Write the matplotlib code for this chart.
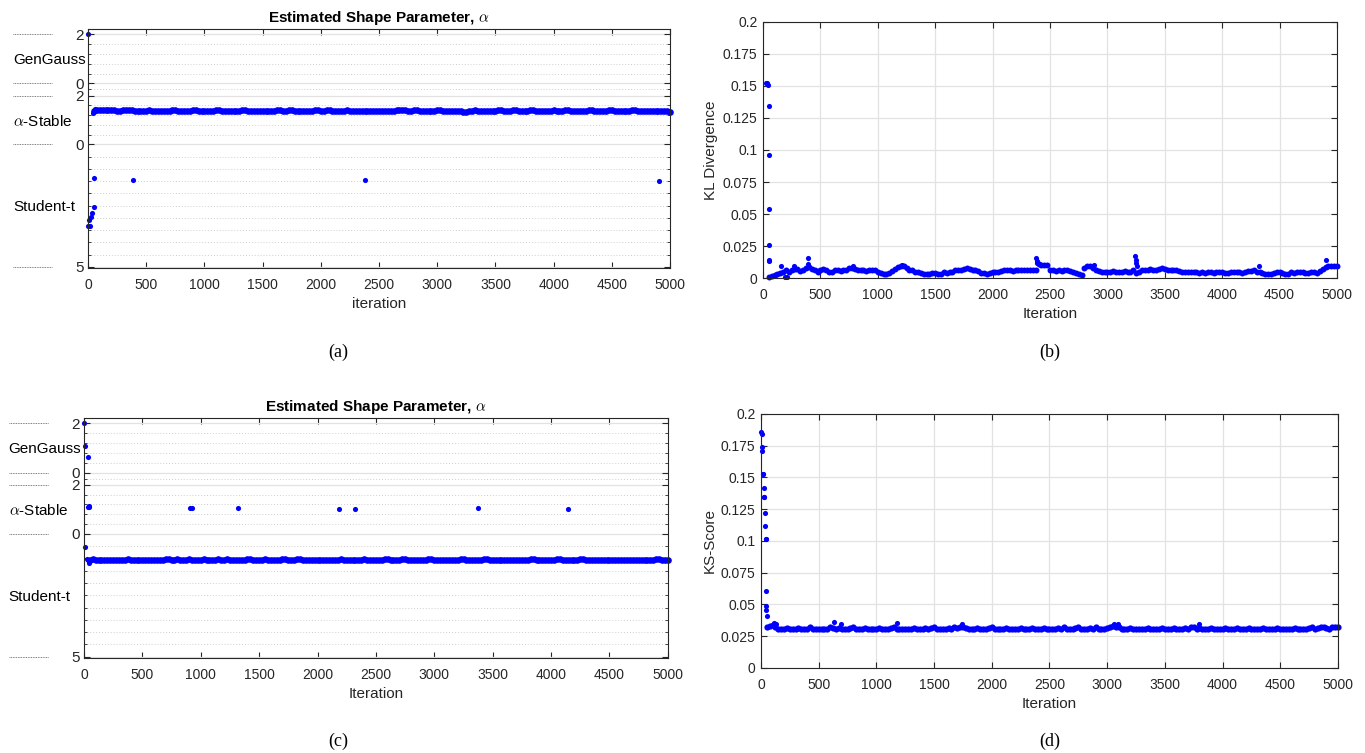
import numpy as np
import matplotlib
matplotlib.use('Agg')
import matplotlib.pyplot as plt

plt.rcParams['font.family'] = ['Liberation Sans', 'DejaVu Sans']
plt.rcParams['mathtext.fontset'] = 'cm'

BLUE = '#0000ff'
DARK = '#262626'
GRID = '#e2e2e2'

# ---------------- data ----------------
band_iter = np.arange(50, 5001, 25)

# (a) shape parameter, first run
a_gg_iter = [0]
a_gg_val = [2.0]
a_st_iter = [40, 60]
a_st_val = [1.27, 1.43]
a_st_band = [1.36, 1.40, 1.41, 1.41, 1.40, 1.40, 1.39, 1.39, 1.38, 1.38, 1.39, 1.39, 1.40, 1.39, 1.38, 1.37, 1.37, 1.38, 1.38, 1.39,
             1.38, 1.38, 1.37, 1.37, 1.38, 1.38, 1.38, 1.39, 1.39, 1.38, 1.38, 1.37, 1.38, 1.38, 1.39, 1.39, 1.38, 1.38, 1.38, 1.37,
             1.38, 1.38, 1.39, 1.39, 1.38, 1.38, 1.37, 1.37, 1.38, 1.38, 1.38, 1.39, 1.39, 1.38, 1.38, 1.38, 1.38, 1.37, 1.37, 1.38,
             1.38, 1.38, 1.38, 1.39, 1.39, 1.38, 1.38, 1.39, 1.39, 1.38, 1.38, 1.38, 1.38, 1.37, 1.38, 1.38, 1.39, 1.39, 1.38, 1.38,
             1.39, 1.39, 1.38, 1.38, 1.38, 1.38, 1.38, 1.39, 1.38, 1.38, 1.38, 1.37, 1.37, 1.36, 1.35, 1.35, 1.35, 1.35, 1.35, 1.35,
             1.35, 1.36, 1.37, 1.38, 1.39, 1.39, 1.40, 1.39, 1.38, 1.38, 1.39, 1.39, 1.38, 1.38, 1.37, 1.38, 1.38, 1.38, 1.39, 1.39,
             1.38, 1.38, 1.37, 1.37, 1.38, 1.37, 1.36, 1.33, 1.31, 1.36, 1.38, 1.39, 1.38, 1.38, 1.38, 1.37, 1.37, 1.38, 1.38, 1.39,
             1.39, 1.38, 1.38, 1.38, 1.39, 1.39, 1.38, 1.38, 1.38, 1.38, 1.39, 1.39, 1.38, 1.38, 1.37, 1.38, 1.38, 1.38, 1.39, 1.38,
             1.38, 1.38, 1.39, 1.39, 1.38, 1.38, 1.38, 1.37, 1.38, 1.38, 1.39, 1.39, 1.38, 1.38, 1.38, 1.38, 1.38, 1.39, 1.39, 1.38,
             1.38, 1.38, 1.37, 1.38, 1.38, 1.39, 1.39, 1.38, 1.38, 1.38, 1.38, 1.37, 1.38, 1.38, 1.37, 1.37, 1.36, 1.35, 1.34]
a_tt_iter = [3, 10, 20, 25, 35, 47, 55, 389, 2380, 4905]
a_tt_val = [3.32, 3.09, 3.32, 2.95, 2.79, 2.57, 1.39, 1.46, 1.45, 1.50]

# (b) KL divergence
kl_early_iter = [28, 32, 45, 48, 50, 51, 52, 53, 54]
kl_early_val = [0.152, 0.152, 0.151, 0.1345, 0.096, 0.054, 0.026, 0.014, 0.013]
kl_band = [0.001, 0.0015, 0.002, 0.003, 0.004, 0.005, 0.006, 0.0045, 0.006, 0.007, 0.007, 0.0055, 0.006, 0.0075, 0.0085, 0.007, 0.006, 0.005, 0.0065, 0.007,
           0.006, 0.005, 0.005, 0.006, 0.0065, 0.0055, 0.006, 0.0065, 0.0075, 0.008, 0.007, 0.0065, 0.0065, 0.006, 0.0055, 0.006, 0.0065, 0.006, 0.005, 0.004,
           0.003, 0.003, 0.004, 0.0055, 0.007, 0.0085, 0.0095, 0.009, 0.0075, 0.006, 0.006, 0.005, 0.005, 0.004, 0.003, 0.003, 0.0035, 0.004, 0.004, 0.003,
           0.0035, 0.0045, 0.004, 0.005, 0.005, 0.0065, 0.0065, 0.006, 0.007, 0.0075, 0.007, 0.0065, 0.006, 0.0055, 0.004, 0.004, 0.0035, 0.004, 0.0045, 0.005,
           0.0045, 0.0055, 0.006, 0.0065, 0.006, 0.0055, 0.006, 0.0065, 0.006, 0.0065, 0.006, 0.006, 0.0065, 0.0065, 0.011, 0.0105, 0.0105, 0.01, 0.0065, 0.006,
           0.0055, 0.006, 0.0055, 0.0065, 0.006, 0.0055, 0.005, 0.004, 0.003, 0.0025, 0.0075, 0.0095, 0.009, 0.0075, 0.0065, 0.0055, 0.005, 0.0045, 0.005, 0.005,
           0.0055, 0.005, 0.0045, 0.005, 0.0055, 0.005, 0.0045, 0.006, 0.004, 0.005, 0.006, 0.0065, 0.006, 0.007, 0.0065, 0.0065, 0.007, 0.0075, 0.007, 0.006,
           0.0065, 0.006, 0.006, 0.0055, 0.005, 0.005, 0.0045, 0.005, 0.0045, 0.005, 0.004, 0.0045, 0.004, 0.005, 0.0045, 0.004, 0.005, 0.005, 0.0045, 0.004,
           0.004, 0.005, 0.005, 0.0045, 0.0045, 0.004, 0.005, 0.0055, 0.0055, 0.0065, 0.005, 0.0045, 0.004, 0.0035, 0.003, 0.0035, 0.004, 0.0045, 0.0045, 0.004,
           0.0035, 0.003, 0.0045, 0.004, 0.005, 0.0045, 0.0045, 0.004, 0.004, 0.0045, 0.005, 0.004, 0.0055, 0.007, 0.0085, 0.009, 0.0095, 0.009, 0.0095]
kl_peak_iter = [160, 190, 210, 270, 390, 395, 780, 1210, 2380, 2385, 2390,
                2880, 3240, 3245, 3250, 3260, 4320, 4900]
kl_peak_val = [0.009, 0.001, 0.001, 0.009, 0.0155, 0.011, 0.009, 0.0105, 0.0155,
               0.013, 0.012, 0.0105, 0.017, 0.014, 0.012, 0.009, 0.009, 0.014]

# (c) shape parameter, second run
c_gg_iter = [0, 5, 37]
c_gg_val = [2.0, 1.06, 0.62]
c_st_iter = [37, 40, 45, 908, 922, 1316, 2183, 2320, 3373, 4144]
c_st_val = [1.11, 1.09, 1.12, 1.06, 1.07, 1.07, 1.03, 1.03, 1.04, 1.03]
c_tt_iter = [8, 25, 35, 40, 45]
c_tt_val = [0.52, 1.04, 1.08, 1.18, 1.12]
c_tt_band = [1.06, 1.04, 1.06, 1.07, 1.06, 1.06, 1.05, 1.06, 1.06, 1.06, 1.06, 1.06, 1.06, 1.04, 1.06, 1.06, 1.06, 1.06, 1.06, 1.06,
             1.06, 1.06, 1.05, 1.06, 1.06, 1.06, 1.04, 1.04, 1.05, 1.06, 1.04, 1.05, 1.06, 1.05, 1.04, 1.06, 1.07, 1.06, 1.05, 1.04,
             1.05, 1.06, 1.06, 1.05, 1.04, 1.06, 1.06, 1.04, 1.08, 1.07, 1.06, 1.06, 1.06, 1.05, 1.04, 1.04, 1.06, 1.07, 1.06, 1.05,
             1.04, 1.05, 1.06, 1.07, 1.08, 1.06, 1.04, 1.04, 1.06, 1.06, 1.05, 1.04, 1.04, 1.05, 1.06, 1.06, 1.06, 1.07, 1.07, 1.06,
             1.06, 1.05, 1.05, 1.06, 1.07, 1.05, 1.04, 1.05, 1.06, 1.07, 1.08, 1.07, 1.06, 1.05, 1.04, 1.05, 1.06, 1.07, 1.07, 1.05,
             1.05, 1.04, 1.04, 1.06, 1.06, 1.07, 1.05, 1.04, 1.04, 1.05, 1.06, 1.06, 1.05, 1.06, 1.06, 1.05, 1.04, 1.04, 1.05, 1.06,
             1.06, 1.05, 1.05, 1.06, 1.06, 1.06, 1.06, 1.04, 1.04, 1.06, 1.06, 1.07, 1.07, 1.06, 1.06, 1.04, 1.04, 1.05, 1.06, 1.06,
             1.05, 1.06, 1.06, 1.06, 1.06, 1.06, 1.06, 1.07, 1.07, 1.06, 1.06, 1.04, 1.04, 1.05, 1.06, 1.06, 1.05, 1.06, 1.07, 1.06,
             1.04, 1.04, 1.06, 1.06, 1.06, 1.06, 1.05, 1.05, 1.04, 1.04, 1.06, 1.06, 1.07, 1.07, 1.05, 1.05, 1.06, 1.06, 1.06, 1.06,
             1.07, 1.07, 1.06, 1.06, 1.06, 1.06, 1.06, 1.06, 1.06, 1.06, 1.06, 1.07, 1.07, 1.05, 1.04, 1.04, 1.05, 1.06, 1.07]

# (d) KS score
ks_early_iter = [3, 8, 10, 12, 17, 20, 22, 25, 30, 35, 38, 42, 44, 45, 46, 47, 48]
ks_early_val = [0.1856, 0.184, 0.1738, 0.1709, 0.1527, 0.1527, 0.142, 0.1346, 0.1346,
                0.1222, 0.1117, 0.1018, 0.1013, 0.0607, 0.0489, 0.0455, 0.041]
ks_band = [0.032, 0.033, 0.0335, 0.032, 0.031, 0.0305, 0.031, 0.0315, 0.031, 0.0305, 0.031, 0.0315, 0.031, 0.0305, 0.031, 0.032, 0.031, 0.0305, 0.031, 0.031,
           0.0305, 0.031, 0.032, 0.0315, 0.031, 0.0315, 0.031, 0.0305, 0.031, 0.0315, 0.032, 0.031, 0.0305, 0.031, 0.0315, 0.031, 0.031, 0.0305, 0.031, 0.0315,
           0.031, 0.0305, 0.031, 0.0315, 0.0325, 0.031, 0.0305, 0.031, 0.031, 0.0305, 0.031, 0.0315, 0.031, 0.0305, 0.031, 0.0315, 0.031, 0.0315, 0.032, 0.031,
           0.0305, 0.031, 0.031, 0.0315, 0.031, 0.032, 0.0315, 0.032, 0.0325, 0.0315, 0.031, 0.0305, 0.031, 0.0315, 0.031, 0.0305, 0.031, 0.0315, 0.032, 0.031,
           0.031, 0.0305, 0.031, 0.0315, 0.031, 0.0305, 0.031, 0.031, 0.0315, 0.031, 0.0305, 0.031, 0.0315, 0.031, 0.0305, 0.031, 0.0315, 0.031, 0.031, 0.0305,
           0.031, 0.0315, 0.031, 0.032, 0.031, 0.0305, 0.031, 0.0315, 0.032, 0.031, 0.0305, 0.031, 0.0315, 0.031, 0.032, 0.0305, 0.031, 0.031, 0.0315, 0.032,
           0.033, 0.0325, 0.032, 0.031, 0.0305, 0.031, 0.0315, 0.031, 0.0305, 0.031, 0.0305, 0.031, 0.0315, 0.031, 0.031, 0.0305, 0.031, 0.0315, 0.031, 0.0305,
           0.031, 0.0315, 0.031, 0.0305, 0.031, 0.0315, 0.031, 0.032, 0.0325, 0.031, 0.0315, 0.031, 0.0305, 0.031, 0.0315, 0.031, 0.031, 0.0305, 0.031, 0.0315,
           0.031, 0.0305, 0.031, 0.0315, 0.031, 0.0305, 0.031, 0.0315, 0.031, 0.031, 0.0305, 0.031, 0.0315, 0.031, 0.0305, 0.031, 0.031, 0.0315, 0.031, 0.0305,
           0.031, 0.0305, 0.031, 0.0315, 0.031, 0.031, 0.0305, 0.031, 0.0315, 0.032, 0.031, 0.0315, 0.032, 0.0325, 0.0315, 0.031, 0.032, 0.0325, 0.032]
ks_peak_iter = [110, 130, 630, 690, 1180, 1740, 3060, 3090, 3800]
ks_peak_val = [0.0355, 0.035, 0.036, 0.0345, 0.0355, 0.0345, 0.0345, 0.0345, 0.0345]

xticks = list(range(0, 5001, 500))
metric_ticks = [0, 0.025, 0.05, 0.075, 0.1, 0.125, 0.15, 0.175, 0.2]
metric_labels = ['0', '0.025', '0.05', '0.075', '0.1', '0.125', '0.15', '0.175', '0.2']


# stacked axis: GenGauss (2..0), alpha-Stable (2..0), Student-t (0..5)
def gg(a):
    return 2 - np.asarray(a)


def ast(a):
    return 4.5 - np.asarray(a)


def stt(v):
    return 4.5 + np.asarray(v)


def dots(ax, x, y, ms=3.7):
    ax.plot(x, y, 'o', color=BLUE, ms=ms, mew=0, ls='none', clip_on=False)


def style_common(ax):
    ax.set_xlim(0, 5000)
    ax.set_xticks(xticks)
    ax.tick_params(which='both', direction='in', top=True, right=True,
                   color=DARK, labelcolor=DARK, labelsize=10)
    ax.tick_params(axis='x', pad=7)
    ax.tick_params(which='major', length=4.5)
    ax.tick_params(which='minor', length=2.5)
    for s in ax.spines.values():
        s.set_color(DARK)
        s.set_linewidth(0.8)
    ax.set_axisbelow(True)


def shape_axes(ax, xlabel):
    style_common(ax)
    ax.set_ylim(9.55, -0.22)
    major = [0, 2, 2.5, 4.5, 9.5]
    ax.set_yticks(major)
    ax.set_yticklabels(['2', '0', '2', '0', '5'])
    minor = [0.4, 0.8, 1.2, 1.6, 2.25, 2.9, 3.3, 3.7, 4.1,
             5.0, 5.5, 6.0, 6.5, 7.0, 7.5, 8.0, 8.5, 9.0]
    ax.set_yticks(minor, minor=True)
    ax.tick_params(axis='y', which='major', labelsize=11, pad=3)
    ax.grid(axis='y', which='major', color=GRID, lw=0.9)
    ax.grid(axis='y', which='minor', color='#cfcfcf', lw=0.7, ls=(0, (1, 2)))
    ax.set_xlabel(xlabel, fontsize=11, color=DARK, labelpad=4)
    ax.set_title(r'Estimated Shape Parameter, $\alpha$', fontsize=11,
                 fontweight='bold', pad=5)
    trans = ax.get_yaxis_transform()
    for z in major:
        ax.plot([-0.129, -0.062], [z, z], transform=trans, color='#555555',
                ls=(0, (1, 1)), lw=0.6, clip_on=False)
    for txt, z in [('GenGauss', 1.05), (r'$\alpha$-Stable', 3.55), ('Student-t', 7.05)]:
        ax.text(-0.129, z, txt, transform=trans, va='center', ha='left',
                fontsize=11, color='black')


def metric_axes(ax, ylabel):
    style_common(ax)
    ax.set_ylim(0, 0.2)
    ax.set_yticks(metric_ticks)
    ax.set_yticklabels(metric_labels)
    ax.tick_params(axis='y', pad=4)
    ax.grid(True, which='major', color=GRID, lw=0.9)
    ax.set_xlabel('Iteration', fontsize=11, color=DARK, labelpad=4)
    ax.set_ylabel(ylabel, fontsize=11, color=DARK, labelpad=3)


fig = plt.figure(figsize=(13.65, 7.53), dpi=100)

ax_a = fig.add_axes([0.0645, 0.6441, 0.4264, 0.3174])
ax_b = fig.add_axes([0.559, 0.6308, 0.4205, 0.3400])
ax_c = fig.add_axes([0.0615, 0.1262, 0.4278, 0.3187])
ax_d = fig.add_axes([0.5575, 0.1129, 0.4227, 0.3373])

# (a)
shape_axes(ax_a, 'iteration')
dots(ax_a, a_gg_iter, gg(a_gg_val))
dots(ax_a, band_iter, ast(a_st_band), ms=4.8)
dots(ax_a, a_st_iter, ast(a_st_val))
dots(ax_a, a_tt_iter, stt(a_tt_val))

# (b)
metric_axes(ax_b, 'KL Divergence')
dots(ax_b, kl_early_iter, kl_early_val)
dots(ax_b, band_iter, kl_band, ms=4.3)
dots(ax_b, kl_peak_iter, kl_peak_val)

# (c)
shape_axes(ax_c, 'Iteration')
dots(ax_c, c_gg_iter, gg(c_gg_val))
dots(ax_c, c_st_iter, ast(c_st_val))
dots(ax_c, band_iter, stt(c_tt_band), ms=4.8)
dots(ax_c, c_tt_iter, stt(c_tt_val))

# (d)
metric_axes(ax_d, 'KS-Score')
dots(ax_d, ks_early_iter, ks_early_val)
dots(ax_d, band_iter, ks_band, ms=4.5)
dots(ax_d, ks_peak_iter, ks_peak_val)

for lab, x, y in [('(a)', 338, 352), ('(b)', 1050, 352), ('(c)', 338, 741), ('(d)', 1050, 741)]:
    fig.text(x / 1365, 1 - y / 753, lab, ha='center', va='center', fontsize=13,
             family=['Liberation Serif', 'DejaVu Serif'])

fig.savefig('out.png', dpi=100)
